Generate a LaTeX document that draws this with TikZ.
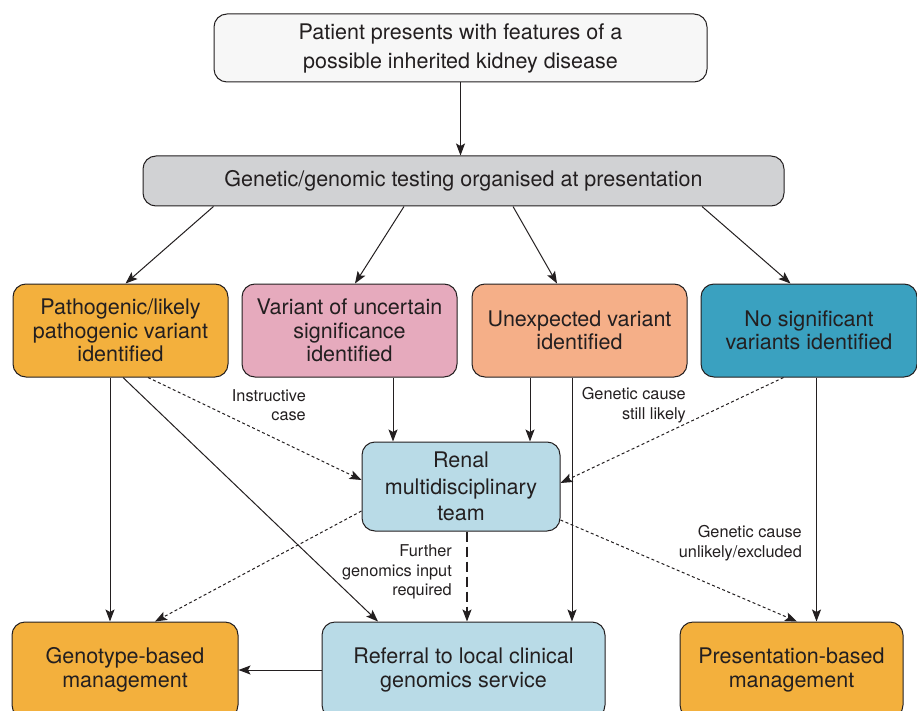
\documentclass[tikz,border=0pt]{standalone}
\usepackage{fontspec}
\setmainfont{TeX Gyre Heros}
\usetikzlibrary{arrows.meta}
\definecolor{boxWhite}{RGB}{247, 247, 247}
\definecolor{boxGrey}{RGB}{209, 210, 212}
\definecolor{boxOrange}{RGB}{243, 176, 61}
\definecolor{boxPink}{RGB}{230, 170, 189}
\definecolor{boxSalmon}{RGB}{245, 175, 136}
\definecolor{boxTeal}{RGB}{58, 161, 192}
\definecolor{boxBlue}{RGB}{185, 219, 231}
\definecolor{lineGrey}{RGB}{35, 31, 32}

\begin{document}
\begin{tikzpicture}[x=1pt, y=-1pt,
    box/.style={draw=lineGrey, line width=1pt, rounded corners=13pt, align=center,
      inner sep=0pt, font=\fontsize{21.5}{23.5}\selectfont, text=lineGrey},
    note/.style={align=right, inner sep=0pt, font=\fontsize{16.3}{19.5}\selectfont, text=lineGrey},
    link/.style={draw=lineGrey, line width=1pt, -{Stealth[length=12pt, width=9pt, inset=2.5pt]}},
    dotlink/.style={link, dash pattern=on 3pt off 2.5pt},
    longdash/.style={link, line width=1.2pt, dash pattern=on 10pt off 5pt}]
  \useasboundingbox (0,0) rectangle (917,711);

  % boxes
  \node[box, fill=boxWhite, minimum width=493pt, minimum height=68pt,
    font=\fontsize{21.5}{29}\selectfont] (patient) at (460.5,48)
    {Patient presents with features of a\\possible inherited kidney disease};
  \node[box, fill=boxGrey, minimum width=641pt, minimum height=50pt] (testing) at (463.5,181)
    {Genetic/genomic testing organised at presentation};
  \node[box, fill=boxOrange, minimum width=215pt, minimum height=93pt] (pathogenic) at (120.5,330.5)
    {Pathogenic/likely\\pathogenic variant\\identified};
  \node[box, fill=boxPink, minimum width=215pt, minimum height=93pt] (vus) at (349.5,330.5)
    {Variant of uncertain\\significance\\identified};
  \node[box, fill=boxSalmon, minimum width=215pt, minimum height=93pt] (unexpected) at (579.5,330.5)
    {Unexpected variant\\identified};
  \node[box, fill=boxTeal, minimum width=216pt, minimum height=93pt] (nosig) at (809,330.5)
    {No significant\\variants identified};
  \node[box, fill=boxBlue, minimum width=198pt, minimum height=89pt,
    font=\fontsize{21.5}{26.5}\selectfont] (mdt) at (461,486.5)
    {Renal\\multidisciplinary\\team};
  \node[box, fill=boxOrange, minimum width=226pt, minimum height=96pt] (genotype) at (125,670)
    {Genotype-based\\management};
  \node[box, fill=boxBlue, minimum width=283pt, minimum height=96pt] (referral) at (463.5,670)
    {Referral to local clinical\\genomics service};
  \node[box, fill=boxOrange, minimum width=223pt, minimum height=96pt] (presentation) at (791.5,670)
    {Presentation-based\\management};

  % labels
  \node[note, anchor=east] (instructive) at (306,405) {Instructive\\case};
  \node[note, anchor=east] (stilllikely) at (686,405) {Genetic cause\\still likely};
  \node[note, anchor=east] (further) at (452,572) {Further\\genomics input\\required};
  \node[note, anchor=east] (unlikely) at (802,543) {Genetic cause\\unlikely/excluded};

  % top part
  \draw[link] (patient) -- (patient |- testing.north);
  \draw[link] ([xshift=-250pt]testing.south) -- ([xshift=5pt]pathogenic.north);
  \draw[link] ([xshift=-59.5pt]testing.south) -- ([xshift=5.5pt]vus.north);
  \draw[link] ([xshift=49.5pt]testing.south) -- ([xshift=-22.5pt]unexpected.north);
  \draw[link] ([xshift=238.5pt]testing.south) -- ([xshift=-18.5pt]nosig.north);

  % into the mdt
  \draw[dotlink] ([xshift=27.5pt]pathogenic.south) -- ([yshift=6.5pt]mdt.west);
  \draw[link] ([xshift=43.5pt]vus.south) -- ([xshift=43.5pt]vus.south |- mdt.north);
  \draw[link] ([xshift=-49.5pt]unexpected.south) -- ([xshift=-49.5pt]unexpected.south |- mdt.north);
  \draw[dotlink] ([xshift=-25.5pt]nosig.south) -- ([yshift=3.5pt]mdt.east);

  % to the bottom row
  \draw[link] ([xshift=-10.5pt]pathogenic.south) -- ([xshift=-10.5pt]pathogenic.south |- genotype.north);
  \draw[link] ([xshift=2.5pt]pathogenic.south) -- ([xshift=-85.5pt]referral.north);
  \draw[link] ([xshift=-7.5pt]unexpected.south) -- ([xshift=-7.5pt]unexpected.south |- referral.north);
  \draw[link] ([xshift=7.5pt]nosig.south) -- ([xshift=7.5pt]nosig.south |- presentation.north);
  \draw[dotlink] ([yshift=-24.5pt]mdt.west) -- ([xshift=30pt]genotype.north);
  \draw[longdash] ([xshift=6pt]mdt.south) -- ([xshift=6pt]mdt.south |- referral.north);
  \draw[dotlink] ([yshift=-33.5pt]mdt.east) -- ([xshift=5.5pt]presentation.north);
  \draw[link] (referral.west) -- (referral.west -| genotype.east);
\end{tikzpicture}
\end{document}
